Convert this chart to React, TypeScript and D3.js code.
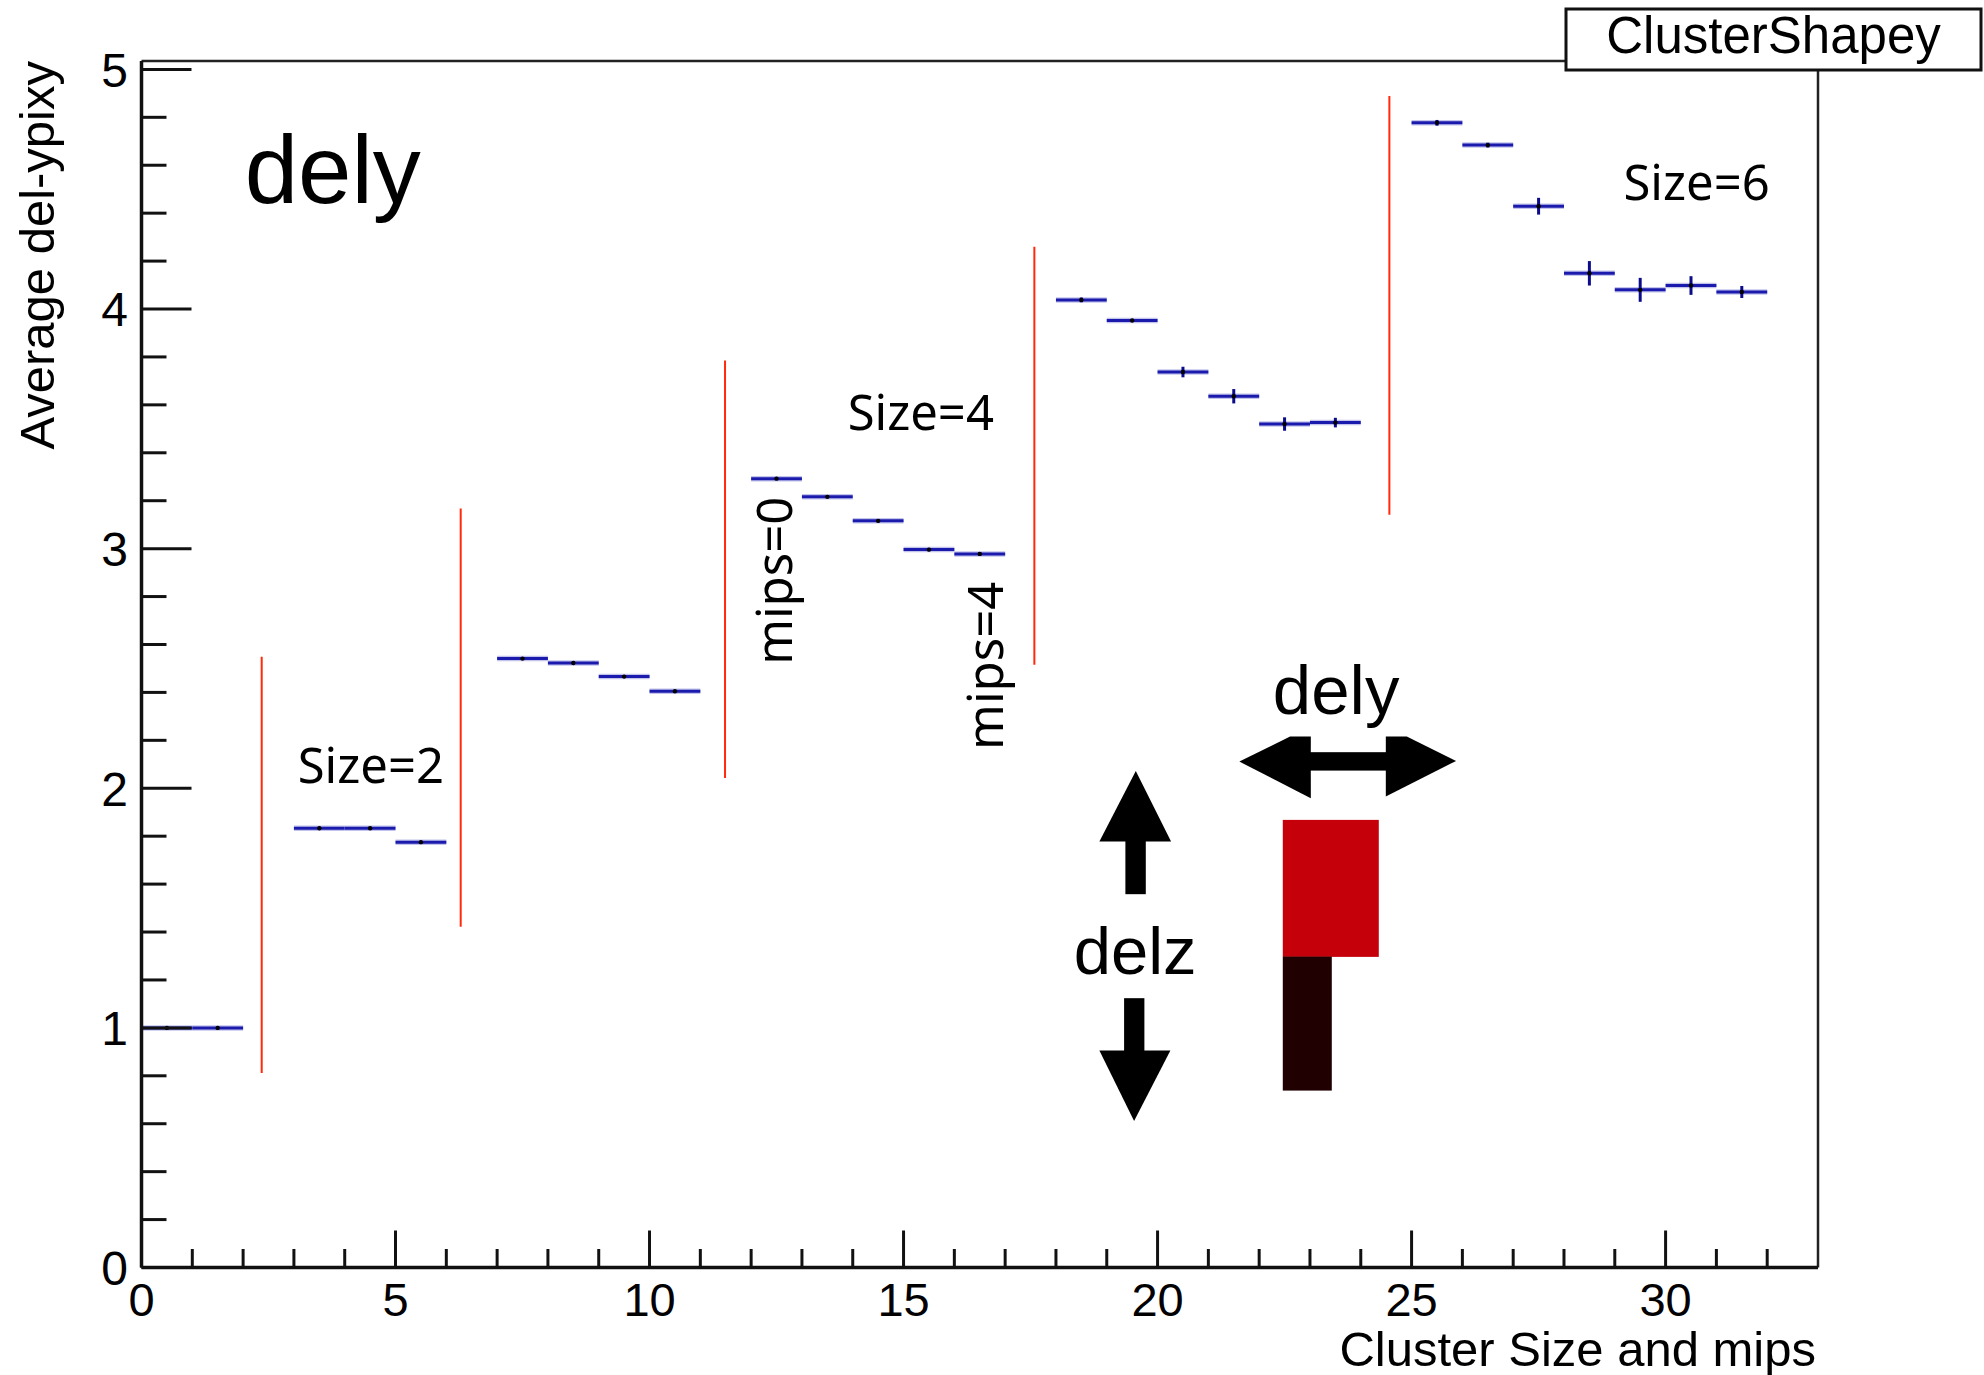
import React from "react";
import * as d3 from "d3";

// ---- data ----
const binLow = [0, 1, 3, 4, 5, 7, 8, 9, 10, 12, 13, 14, 15, 16, 18, 19, 20, 21, 22, 23, 25, 26, 27, 28, 29, 30, 31];
const binMean = [
  1.0, 1.0, 1.833, 1.833, 1.775, 2.541, 2.523, 2.466, 2.405, 3.292, 3.216, 3.116, 2.996, 2.978,
  4.038, 3.952, 3.737, 3.636, 3.52, 3.526, 4.777, 4.684, 4.429, 4.149, 4.08, 4.098, 4.071,
];
const binErr = [
  0.003, 0.003, 0.004, 0.004, 0.004, 0.004, 0.004, 0.005, 0.005, 0.005, 0.005, 0.006, 0.007, 0.007,
  0.01, 0.006, 0.022, 0.03, 0.028, 0.02, 0.012, 0.01, 0.035, 0.051, 0.05, 0.039, 0.025,
];
const xTickLabels = [0, 5, 10, 15, 20, 25, 30];
const yTickLabels = [0, 1, 2, 3, 4, 5];
const separatorX = [2.366, 6.283, 11.486, 17.575, 24.563];
const separatorTop = [2.549, 3.167, 3.785, 4.26, 4.889];
const separatorBottom = [0.812, 1.422, 2.043, 2.515, 3.141];
const sizeLabels = ["Size=2", "Size=4", "Size=6"];
const sizeLabelX = [3.075, 13.9, 29.17];
const sizeLabelY = [2.023, 3.495, 4.455];
const mipsLabels = ["mips=0", "mips=4"];
const mipsLabelX = [12.795, 16.96];
const mipsLabelY = [2.515, 2.16];

const W = 1984;
const H = 1375;
const LEFT = 141.5;
const RIGHT = 1818;
const TOP = 61;
const BOTTOM = 1267.5;

const AXIS_FONT = "'Liberation Sans', Arial, Helvetica, sans-serif";
const NOTE_FONT = "'Noto Sans', 'Liberation Sans', sans-serif";
const BLUE = "#1a1aac";

export default function App() {
  const x = d3.scaleLinear().domain([0, 33]).range([LEFT, RIGHT]);
  const y = d3.scaleLinear().domain([0, 5.035]).range([BOTTOM, TOP]);

  const xMinor = d3.range(1, 33).filter((v) => v % 5 !== 0);
  const yMinor = d3.range(0, 26).map((i) => +(i * 0.2).toFixed(2)).filter((v) => Math.abs(v - Math.round(v)) > 1e-6);

  // illustration anchor (data coords -> pixels)
  const ax = x(22.465);
  const ay = y(1.868);

  return (
    <svg
      width={W}
      height={H}
      viewBox={`0 0 ${W} ${H}`}
      style={{ position: "absolute", left: 0, top: 0, background: "#fff" }}
    >
      <rect x={0} y={0} width={W} height={H} fill="#fff" />

      {/* frame */}
      <line x1={LEFT} y1={TOP} x2={RIGHT} y2={TOP} stroke="#222" strokeWidth={2.5} />
      <line x1={RIGHT} y1={TOP} x2={RIGHT} y2={BOTTOM} stroke="#222" strokeWidth={2.5} />

      {/* separators */}
      {separatorX.map((sx, i) => (
        <line
          key={"sep" + i}
          x1={x(sx)}
          x2={x(sx)}
          y1={y(separatorTop[i])}
          y2={y(separatorBottom[i])}
          stroke="#ff2a0a"
          strokeWidth={2}
        />
      ))}

      {/* data */}
      {binLow.map((lo, i) => {
        const cx = x(lo + 0.5);
        const cy = y(binMean[i]);
        return (
          <g key={"bin" + i}>
            <line x1={x(lo)} x2={x(lo + 1)} y1={cy} y2={cy} stroke="#9b9be0" strokeOpacity={0.6} strokeWidth={5.5} />
            <line x1={x(lo)} x2={x(lo + 1)} y1={cy} y2={cy} stroke={BLUE} strokeWidth={3} />
            <line
              x1={cx}
              x2={cx}
              y1={y(binMean[i] - binErr[i])}
              y2={y(binMean[i] + binErr[i])}
              stroke="#0c0c8a"
              strokeWidth={3}
            />
            <circle cx={cx} cy={cy} r={2.2} fill="#000" />
          </g>
        );
      })}

      {/* axes */}
      <line x1={LEFT} y1={TOP} x2={LEFT} y2={BOTTOM} stroke="#111" strokeWidth={3.5} />
      <line x1={LEFT} y1={BOTTOM} x2={RIGHT} y2={BOTTOM} stroke="#111" strokeWidth={3.5} />
      {yTickLabels.map((v) => (
        <g key={"yt" + v}>
          <line x1={LEFT} x2={LEFT + 50} y1={y(v)} y2={y(v)} stroke="#111" strokeWidth={3} />
          <text
            x={128}
            y={y(v)}
            dy="0.36em"
            textAnchor="end"
            fontFamily={AXIS_FONT}
            fontSize={48}
            fill="#000"
          >
            {v}
          </text>
        </g>
      ))}
      {yMinor.map((v) => (
        <line key={"ym" + v} x1={LEFT} x2={LEFT + 25} y1={y(v)} y2={y(v)} stroke="#111" strokeWidth={3} />
      ))}
      {xTickLabels.map((v) => (
        <g key={"xt" + v}>
          <line x1={x(v)} x2={x(v)} y1={BOTTOM} y2={BOTTOM - 37} stroke="#111" strokeWidth={3} />
          <text
            x={x(v)}
            y={1316}
            textAnchor="middle"
            fontFamily={AXIS_FONT}
            fontSize={47}
            fill="#000"
          >
            {v}
          </text>
        </g>
      ))}
      {xMinor.map((v) => (
        <line key={"xm" + v} x1={x(v)} x2={x(v)} y1={BOTTOM} y2={BOTTOM - 18.5} stroke="#111" strokeWidth={3} />
      ))}

      {/* axis titles */}
      <text
        x={1816}
        y={1366}
        textAnchor="end"
        fontFamily={AXIS_FONT}
        fontSize={49}
        fill="#000"
      >
        Cluster Size and mips
      </text>
      <text
        transform={`translate(54, ${TOP}) rotate(-90)`}
        textAnchor="end"
        fontFamily={AXIS_FONT}
        fontSize={49}
        fill="#000"
      >
        Average del-ypixy
      </text>

      {/* title box */}
      <rect x={1566} y={9} width={415} height={61} fill="#fff" stroke="#111" strokeWidth={3} />
      <text x={1773.5} y={53} textAnchor="middle" fontFamily={AXIS_FONT} fontSize={51} fill="#000">
        ClusterShapey
      </text>

      {/* big label */}
      <text x={x(2.03)} y={y(4.442)} fontFamily={AXIS_FONT} fontSize={96} fill="#000">
        dely
      </text>

      {/* group annotations */}
      {sizeLabels.map((t, i) => (
        <text
          key={t}
          x={x(sizeLabelX[i])}
          y={y(sizeLabelY[i])}
          fontFamily={NOTE_FONT}
          fontSize={49}
          fill="#000"
        >
          {t}
        </text>
      ))}
      {mipsLabels.map((t, i) => (
        <text
          key={t}
          transform={`translate(${x(mipsLabelX[i])}, ${y(mipsLabelY[i])}) rotate(-90)`}
          fontFamily={NOTE_FONT}
          fontSize={49}
          fill="#000"
        >
          {t}
        </text>
      ))}

      {/* illustration */}
      <g transform={`translate(${ax}, ${ay})`}>
        <rect x={0} y={0} width={96} height={137} fill="#c5000b" />
        <rect x={0} y={136.7} width={49} height={134} fill="#200000" />
        {/* up arrow */}
        <polygon points="-147,-49 -183.4,21.7 -111.7,21.7" fill="#000" />
        <rect x={-157.4} y={21} width={20.4} height={53.3} fill="#000" />
        {/* down arrow */}
        <rect x={-158.7} y={178.3} width={20.3} height={53} fill="#000" />
        <polygon points="-183.4,230.7 -112.4,230.7 -148.7,301" fill="#000" />
        <text x={-147.7} y={154.3} textAnchor="middle" fontFamily={AXIS_FONT} fontSize={67} fill="#000">
          delz
        </text>
        {/* horizontal double arrow */}
        <polygon points="-43.4,-58.3 7.3,-83.3 28,-83.3 28,-21.7" fill="#000" />
        <rect x={27} y={-67.7} width={77} height={18.4} fill="#000" />
        <polygon points="103,-83.3 124,-83.3 173.3,-59 103,-23.3" fill="#000" />
        <text x={53.3} y={-106} textAnchor="middle" fontFamily={AXIS_FONT} fontSize={69} fill="#000">
          dely
        </text>
      </g>
    </svg>
  );
}
